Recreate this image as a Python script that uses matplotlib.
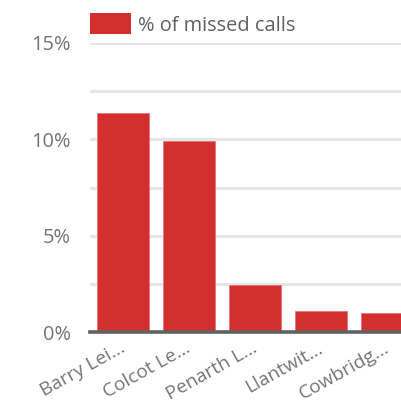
import matplotlib
matplotlib.use("Agg")
import matplotlib.pyplot as plt
from matplotlib.patches import Rectangle
from matplotlib.ticker import FuncFormatter
from matplotlib.transforms import ScaledTranslation

# Missed-call rate by site
sites = ["Barry Lei...", "Colcot Le...", "Penarth L...", "Llantwit...", "Cowbridg..."]
missed_pct = [11.35, 9.9, 2.45, 1.1, 1.0]
y_ticks = [0, 2.5, 5, 7.5, 10, 12.5, 15]
series_name = "% of missed calls"

W, H = 401, 404
BAR = "#d32f2f"
TXT = "#757575"

plt.rcParams["font.family"] = ["Open Sans", "DejaVu Sans"]
fig = plt.figure(figsize=(W / 100, H / 100), dpi=100)

# plot area in pixels: left 90, right runs past the figure edge
left, right, top, bottom = 90, 420, 43, 332
ax = fig.add_axes([left / W, 1 - bottom / H, (right - left) / W, (bottom - top) / H])

x = range(len(sites))
ax.bar(x, missed_pct, width=0.8, color=BAR, edgecolor="#e57373", linewidth=0.6, zorder=3)
ax.set_xlim(-0.5, len(sites) - 0.5)
ax.set_ylim(0, 15)
ax.set_yticks(y_ticks)
ax.yaxis.grid(True, color="#e6e6e6", linewidth=2.2, zorder=0)
ax.axhline(0, color="#616161", linewidth=2.6, zorder=4, clip_on=False)
for s in ax.spines.values():
    s.set_visible(False)
ax.tick_params(axis="both", length=0, labelsize=14.4, labelcolor=TXT)
ax.tick_params(axis="y", pad=14)
ax.yaxis.set_major_formatter(FuncFormatter(lambda v, p: f"{v:g}%" if v % 5 == 0 else ""))
ax.set_xticks(list(x))
ax.set_xticklabels(sites, rotation=29, ha="right", va="baseline",
                   rotation_mode="anchor", fontsize=13.8)
ax.tick_params(axis="x", pad=14)
shift = ScaledTranslation(3 / 100, 0, fig.dpi_scale_trans)
for lab in ax.get_xticklabels():
    lab.set_transform(lab.get_transform() + shift)

# legend swatch and label
fig.add_artist(Rectangle((89.5 / W, 1 - 33.7 / H), 41 / W, 20.4 / H,
                         transform=fig.transFigure, facecolor=BAR, edgecolor="none"))
fig.text(138.5 / W, 1 - 30.7 / H, series_name, fontsize=14.4, color="#616161",
         va="baseline", ha="left")

fig.savefig("out.png", dpi=100, facecolor="white")
